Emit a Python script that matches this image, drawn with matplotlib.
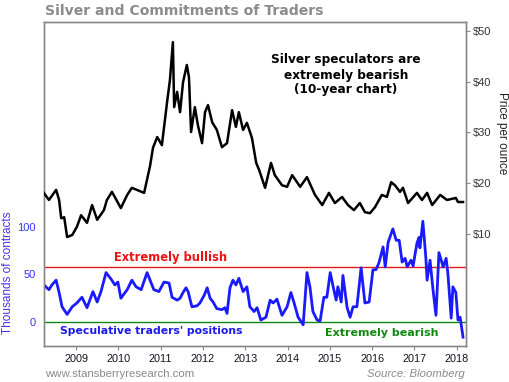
import matplotlib
matplotlib.use("Agg")
import matplotlib.pyplot as plt

# Silver price (decimal year, $/oz)
silver_t = [2008.24, 2008.36, 2008.53, 2008.60, 2008.65, 2008.72, 2008.79, 2008.91,
            2009.02, 2009.12, 2009.26, 2009.38, 2009.50, 2009.66, 2009.73, 2009.85,
            2010.06, 2010.21, 2010.32, 2010.61, 2010.75, 2010.82, 2010.92, 2011.03,
            2011.15, 2011.22, 2011.29, 2011.32, 2011.39, 2011.46, 2011.53, 2011.62,
            2011.67, 2011.72, 2011.81, 2011.88, 2011.98, 2012.05, 2012.12, 2012.22,
            2012.33, 2012.45, 2012.57, 2012.69, 2012.78, 2012.85, 2012.95, 2013.04,
            2013.16, 2013.26, 2013.33, 2013.47, 2013.61, 2013.70, 2013.87, 2013.99,
            2014.11, 2014.30, 2014.46, 2014.65, 2014.82, 2014.98, 2015.12, 2015.29,
            2015.43, 2015.57, 2015.71, 2015.83, 2015.95, 2016.07, 2016.23, 2016.35,
            2016.45, 2016.54, 2016.66, 2016.73, 2016.85, 2017.06, 2017.18, 2017.30,
            2017.42, 2017.61, 2017.77, 2017.98, 2018.03, 2018.15]
silver_p = [18.1, 16.7, 18.7, 16.7, 13.1, 13.3, 9.4, 9.8,
            11.4, 13.7, 12.2, 15.7, 12.8, 14.7, 16.7, 18.3,
            15.1, 17.7, 19.1, 18.1, 23.4, 27.0, 29.1, 27.5,
            35.8, 40.3, 47.8, 35.0, 38.0, 34.0, 39.9, 43.3,
            40.9, 30.1, 35.0, 31.5, 27.9, 34.0, 35.4, 32.0,
            30.5, 27.1, 27.9, 34.4, 31.1, 34.0, 30.5, 31.9,
            28.9, 24.0, 22.6, 19.1, 24.0, 21.6, 19.6, 19.3,
            21.6, 19.3, 21.2, 17.7, 15.7, 18.1, 16.1, 17.3,
            15.7, 14.7, 16.1, 14.3, 14.1, 15.3, 17.7, 17.3,
            20.2, 19.6, 18.3, 19.1, 16.1, 18.1, 16.7, 18.1,
            15.7, 17.7, 16.7, 17.1, 16.3, 16.3]

# Speculative net positions (decimal year, thousands of contracts)
cot_t = [2008.24, 2008.36, 2008.43, 2008.53, 2008.60, 2008.67, 2008.79, 2008.91,
         2009.02, 2009.14, 2009.26, 2009.40, 2009.50, 2009.59, 2009.71, 2009.83,
         2009.92, 2009.99, 2010.06, 2010.21, 2010.32, 2010.42, 2010.54, 2010.68,
         2010.84, 2010.96, 2011.08, 2011.20, 2011.27, 2011.39, 2011.46, 2011.53,
         2011.60, 2011.65, 2011.74, 2011.86, 2011.93, 2012.03, 2012.10, 2012.17,
         2012.24, 2012.33, 2012.45, 2012.52, 2012.57, 2012.64, 2012.71, 2012.78,
         2012.85, 2012.95, 2013.04, 2013.11, 2013.21, 2013.28, 2013.37, 2013.49,
         2013.59, 2013.66, 2013.75, 2013.87, 2013.99, 2014.08, 2014.15, 2014.25,
         2014.37, 2014.46, 2014.53, 2014.60, 2014.70, 2014.77, 2014.86, 2014.93,
         2015.01, 2015.08, 2015.15, 2015.19, 2015.27, 2015.31, 2015.41, 2015.48,
         2015.55, 2015.64, 2015.74, 2015.83, 2015.93, 2016.02, 2016.09, 2016.16,
         2016.26, 2016.31, 2016.38, 2016.49, 2016.57, 2016.64, 2016.71, 2016.78,
         2016.83, 2016.92, 2016.97, 2017.06, 2017.11, 2017.13, 2017.20, 2017.27,
         2017.30, 2017.37, 2017.44, 2017.51, 2017.58, 2017.68, 2017.75, 2017.79,
         2017.87, 2017.91, 2017.98, 2018.03, 2018.08, 2018.15]
cot_k = [39, 34, 39, 44, 31, 16, 8, 16,
         20, 26, 15, 32, 21, 32, 52, 45,
         39, 42, 25, 34, 44, 37, 34, 52,
         34, 32, 42, 41, 26, 23, 25, 31,
         36, 32, 16, 17, 20, 28, 36, 25,
         21, 14, 13, 15, 9, 36, 44, 39,
         46, 32, 37, 16, 11, 15, 2, 5,
         23, 20, 24, 7, 16, 31, 21, 5,
         -3, 52, 37, 11, 2, 1, 26, 26,
         52, 37, 23, 37, 21, 49, 15, 5,
         16, 16, 57, 20, 21, 55, 55, 62,
         79, 58, 84, 98, 86, 86, 63, 67,
         58, 65, 59, 83, 89, 78, 106, 68,
         44, 65, 34, 7, 73, 58, 67, 52,
         4, 37, 31, 2, 5, -16]

years = list(range(2009, 2019))
cot_ticks = [0, 50, 100]
price_ticks = [10, 20, 30, 40, 50]
bullish_level = 58
bearish_level = 0

W, H = 510, 382
fig = plt.figure(figsize=(W / 100, H / 100), dpi=100)
fig.patch.set_facecolor("white")

def fx(x):
    return x / W

def fy(y):
    return 1 - y / H

ax = fig.add_axes([fx(44), fy(346), fx(466) - fx(44), fy(22) - fy(346)])
ax2 = ax.twinx()

ax.set_xlim(2008.243, 2018.22)
ax.set_ylim(-25.3, 315.8)
ax2.set_ylim(-12.07, 51.77)

ax.axhline(bullish_level, color="#e31a1c", lw=1.0, zorder=2)
ax.axhline(bearish_level, color="#118811", lw=1.0, zorder=2)
ax.plot(cot_t, cot_k, color="#1a1aff", lw=2.0, zorder=3)
ax2.plot(silver_t, silver_p, color="black", lw=1.8, zorder=3)

gray = "#888888"
for a in (ax, ax2):
    for s in a.spines.values():
        s.set_color(gray)
        s.set_linewidth(1.0)

font = "Liberation Sans"
ax.set_xticks(years)
ax.set_xticklabels([str(y) for y in years], fontsize=7.8, family=font, color="#1a1020")
ax.tick_params(axis="x", length=3, color=gray, pad=3)
ax.set_yticks(cot_ticks)
ax.set_yticklabels([str(v) for v in cot_ticks], fontsize=8, family=font, color="#3333ff")
ax.tick_params(axis="y", length=0, pad=6)
ax2.set_yticks(price_ticks)
ax2.set_yticklabels(["$%d" % v for v in price_ticks], fontsize=8, family=font, color="#333333")
ax2.tick_params(axis="y", length=3, color=gray, pad=2)

fig.text(fx(45), fy(11), "Silver and Commitments of Traders", fontsize=10.1,
         fontweight="bold", color="#8c8c8c", ha="left", va="center")
fig.text(fx(346), fy(75), "Silver speculators are\nextremely bearish\n(10-year chart)",
         fontsize=8.7, fontweight="bold", color="black", ha="center", va="center",
         linespacing=1.2)
fig.text(fx(171), fy(258), "Extremely bullish", fontsize=8.3, fontweight="bold",
         color="#ee1111", ha="center", va="center")
fig.text(fx(151), fy(331), "Speculative traders' positions", fontsize=7.8,
         fontweight="bold", color="#1a1aee", ha="center", va="center")
fig.text(fx(382), fy(333), "Extremely bearish", fontsize=8.0, fontweight="bold",
         color="#118811", ha="center", va="center")
fig.text(fx(8), fy(273), "Thousands of contracts", fontsize=8.5, family=font,
         color="#4433ee", rotation=90, ha="center", va="center")
fig.text(fx(502), fy(133), "Price per ounce", fontsize=8.5, family=font,
         color="#222222", rotation=270, ha="center", va="center")
fig.text(fx(45), fy(374), "www.stansberryresearch.com", fontsize=8.2, family=font,
         color="#8a8a8a", ha="left", va="center")
fig.text(fx(465), fy(374), "Source: Bloomberg", fontsize=8.2, family=font,
         style="italic", color="#8a8a8a", ha="right", va="center")

fig.savefig("out.png", dpi=100)
